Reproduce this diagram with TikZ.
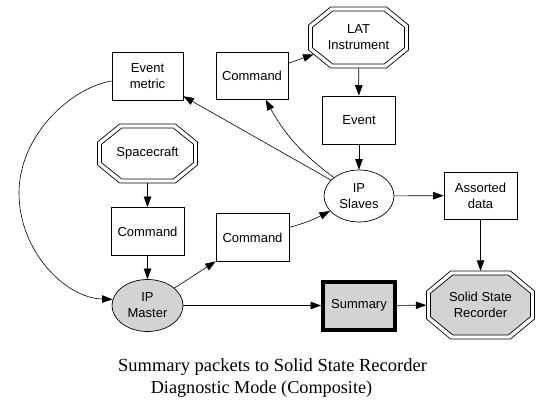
\documentclass[tikz,border=0pt]{standalone}
\usepackage{fontspec}
\setmainfont{Liberation Sans}
\newfontfamily\capfont{Liberation Serif}
\usetikzlibrary{shapes.geometric,arrows.meta,calc}
\definecolor{ngray}{HTML}{D3D3D3}
% octagon outline around a named node: #1 node, #2 half width, #3 half height, #4 x inset, #5 y inset
\newcommand{\octpath}[5]{($(#1)+(-#2+#4,#3)$) -- ($(#1)+(#2-#4,#3)$) -- ($(#1)+(#2,#3-#5)$) -- ($(#1)+(#2,-#3+#5)$) -- ($(#1)+(#2-#4,-#3)$) -- ($(#1)+(-#2+#4,-#3)$) -- ($(#1)+(-#2,-#3+#5)$) -- ($(#1)+(-#2,#3-#5)$) -- cycle}
\begin{document}
\begin{tikzpicture}[x=1pt,y=1pt,
  every node/.style={font=\fontsize{13}{16}\selectfont, align=center, inner sep=0pt},
  box/.style={draw, line width=0.7pt, minimum width=72pt, minimum height=47pt},
  octnode/.style={rectangle, draw=none},
  octline/.style={line width=0.7pt, line join=miter},
  ell/.style={ellipse, draw, line width=0.7pt, minimum width=70pt, minimum height=52pt},
  arr/.style={line width=0.6pt, -{Triangle[length=10.5pt,width=7.5pt]}}]
\useasboundingbox (0,0) rectangle (551,416);
% octagon nodes (drawn first so the text is on top)
\coordinate (latc) at (358.5,378.5);
\coordinate (spacec) at (147.5,262.5);
\coordinate (ssrc) at (480.5,111);
\draw[octline] \octpath{latc}{50}{30.5}{22}{18};
\draw[octline] \octpath{latc}{46}{26.5}{20.3}{16.3};
\draw[octline] \octpath{spacec}{50}{29.5}{22}{18};
\draw[octline] \octpath{spacec}{46}{25.5}{20.3}{16.3};
\draw[octline] \octpath{ssrc}{54}{34}{24}{20};
\draw[octline, fill=ngray] \octpath{ssrc}{50}{30}{22.3}{18.3};
\node[octnode, minimum width=100pt, minimum height=61pt] (lat) at (latc) {LAT\\Instrument};
\node[octnode, minimum width=100pt, minimum height=59pt] (space) at (spacec) {Spacecraft};
\node[octnode, minimum width=108pt, minimum height=68pt] (ssr) at (ssrc) {Solid State\\Recorder};
\coordinate (latin) at ($(lat)+(-45,-17)$);
% other nodes
\node[box, minimum width=71pt, minimum height=48pt] (evm) at (147.5,340) {Event\\metric};
\node[box] (cmdT) at (252,340) {Command};
\node[box, minimum width=73pt, minimum height=48pt] (event) at (359,296) {Event};
\node[ell] (slaves) at (359,220) {IP\\Slaves};
\node[box, minimum width=73pt] (assorted) at (480.5,220.5) {Assorted\\data};
\node[box, minimum width=73pt, minimum height=48pt] (cmdL) at (147.5,184.5) {Command};
\node[box, minimum width=73pt, minimum height=48pt] (cmdM) at (252.5,178.5) {Command};
\node[ell, fill=ngray, minimum width=71pt] (master) at (147.5,110.5) {IP\\Master};
\node[draw, line width=4pt, fill=ngray, minimum width=72pt, minimum height=48pt] (summary) at (359,110.5) {Summary};
% caption
\node[font=\capfont\fontsize{18.5}{21}\selectfont, anchor=base] (cap1) at (272.5,45) {Summary packets to Solid State Recorder};
\node[font=\capfont\fontsize{18.2}{21}\selectfont, anchor=base] (cap2) at (261.5,23) {Diagnostic Mode (Composite)};
% edges
\draw[arr] (cmdT) -- (latin);
\draw[arr] (lat) -- (event);
\draw[arr] (event) -- (slaves);
\draw[arr] (slaves) -- (evm);
\draw[arr] (slaves) to[bend left=12] (cmdT);
\draw[arr] (slaves) -- (assorted);
\draw[arr] (assorted) -- (ssr);
\draw[arr] (space) -- (cmdL);
\draw[arr] (cmdL) -- (master);
\draw[arr] (master) -- (cmdM);
\draw[arr] (cmdM) to[bend right=6] (slaves);
\draw[arr] (master) -- (summary);
\draw[arr] (summary) -- (ssr);
\draw[arr] ([yshift=-5pt]evm.west) .. controls (70,328) and (19,280) .. (19,223) .. controls (19,165) and (65,118) .. (master.170);
\end{tikzpicture}
\end{document}
